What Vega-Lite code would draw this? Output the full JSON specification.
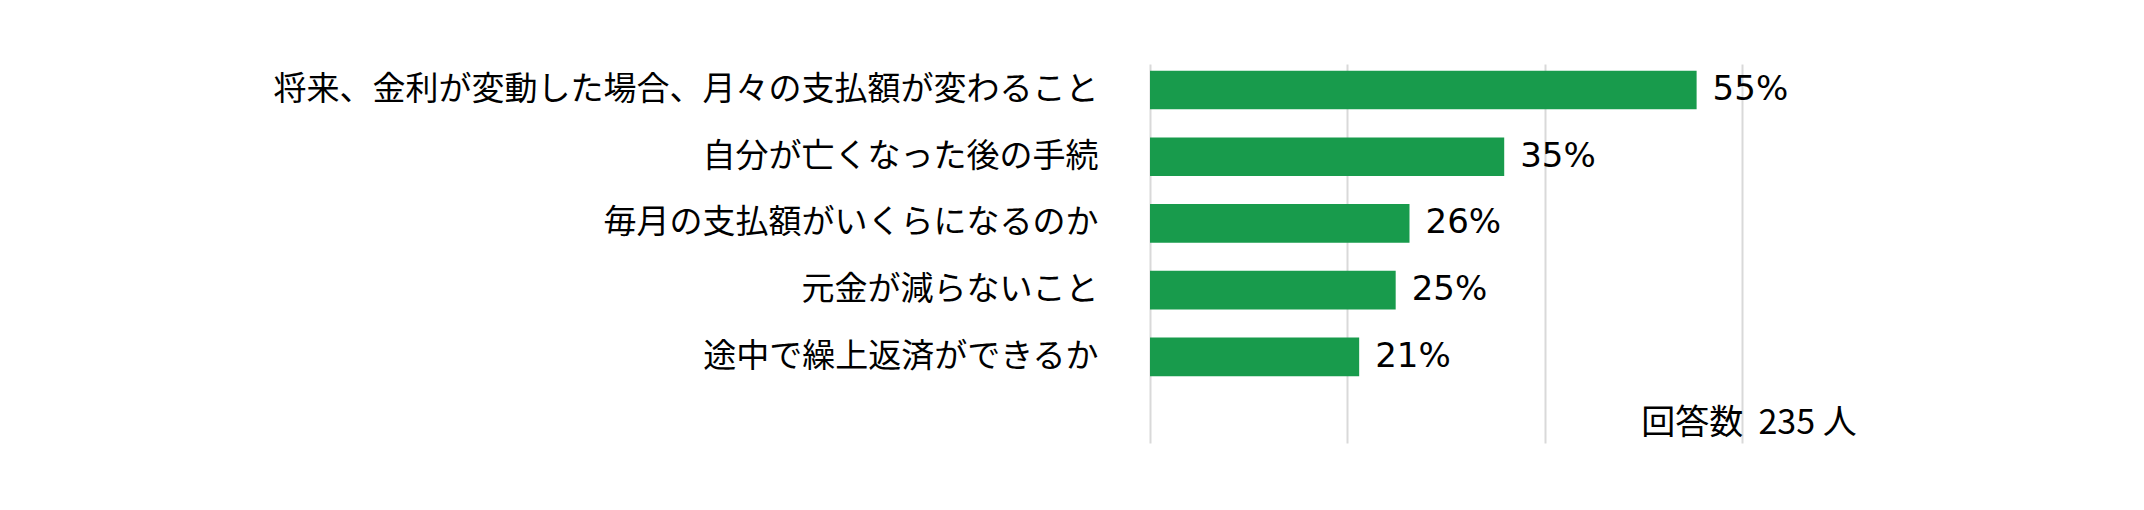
{
  "$schema": "https://vega.github.io/schema/vega-lite/v6.json",
  "width": 592,
  "height": 379,
  "autosize": {"type": "none"},
  "padding": {"left": 1150, "top": 64, "right": 402, "bottom": 67},
  "background": "white",
  "datasets": {
    "answers": [
      {"item": "将来、金利が変動した場合、月々の支払額が変わること", "share": 0.554, "label": "55%"},
      {"item": "自分が亡くなった後の手続", "share": 0.359, "label": "35%"},
      {"item": "毎月の支払額がいくらになるのか", "share": 0.263, "label": "26%"},
      {"item": "元金が減らないこと", "share": 0.249, "label": "25%"},
      {"item": "途中で繰上返済ができるか", "share": 0.212, "label": "21%"}
    ],
    "note": [
      {"item": "_note", "share": 0.6, "text": "回答数\u00a0\u00a0235\u00a0人"}
    ]
  },
  "encoding": {
    "y": {
      "field": "item",
      "type": "nominal",
      "sort": null,
      "title": null,
      "scale": {
        "domain": [
          "将来、金利が変動した場合、月々の支払額が変わること",
          "自分が亡くなった後の手続",
          "毎月の支払額がいくらになるのか",
          "元金が減らないこと",
          "途中で繰上返済ができるか",
          "_note"
        ],
        "paddingInner": 0.42,
        "paddingOuter": 0.05,
        "align": 1
      },
      "axis": {
        "ticks": false,
        "domain": false,
        "labelPadding": 52,
        "labelFontSize": 33,
        "labelColor": "#000000",
        "labelFont": "Noto Sans CJK JP",
        "labelLimit": 1100,
        "labelExpr": "datum.value == '_note' ? '' : datum.value"
      }
    }
  },
  "layer": [
    {
      "data": {"name": "answers"},
      "mark": {"type": "bar", "color": "#189b4c"},
      "encoding": {
        "x": {
          "field": "share",
          "type": "quantitative",
          "title": null,
          "scale": {"domain": [0, 0.6], "nice": false},
          "axis": {
            "values": [0, 0.2, 0.4, 0.6],
            "labels": false,
            "ticks": false,
            "domain": false,
            "grid": true,
            "gridColor": "#d9d9d9",
            "gridWidth": 2
          }
        }
      }
    },
    {
      "data": {"name": "answers"},
      "mark": {
        "type": "text",
        "align": "left",
        "baseline": "middle",
        "dx": 16,
        "font": "DejaVu Sans",
        "fontSize": 34,
        "color": "#000000"
      },
      "encoding": {
        "x": {"field": "share", "type": "quantitative"},
        "text": {"field": "label"}
      }
    },
    {
      "data": {"name": "note"},
      "mark": {
        "type": "text",
        "align": "center",
        "baseline": "middle",
        "dx": 7,
        "font": "Noto Sans CJK JP",
        "fontSize": 34,
        "color": "#000000"
      },
      "encoding": {
        "x": {"field": "share", "type": "quantitative"},
        "text": {"field": "text"}
      }
    }
  ],
  "config": {"view": {"stroke": null}}
}
